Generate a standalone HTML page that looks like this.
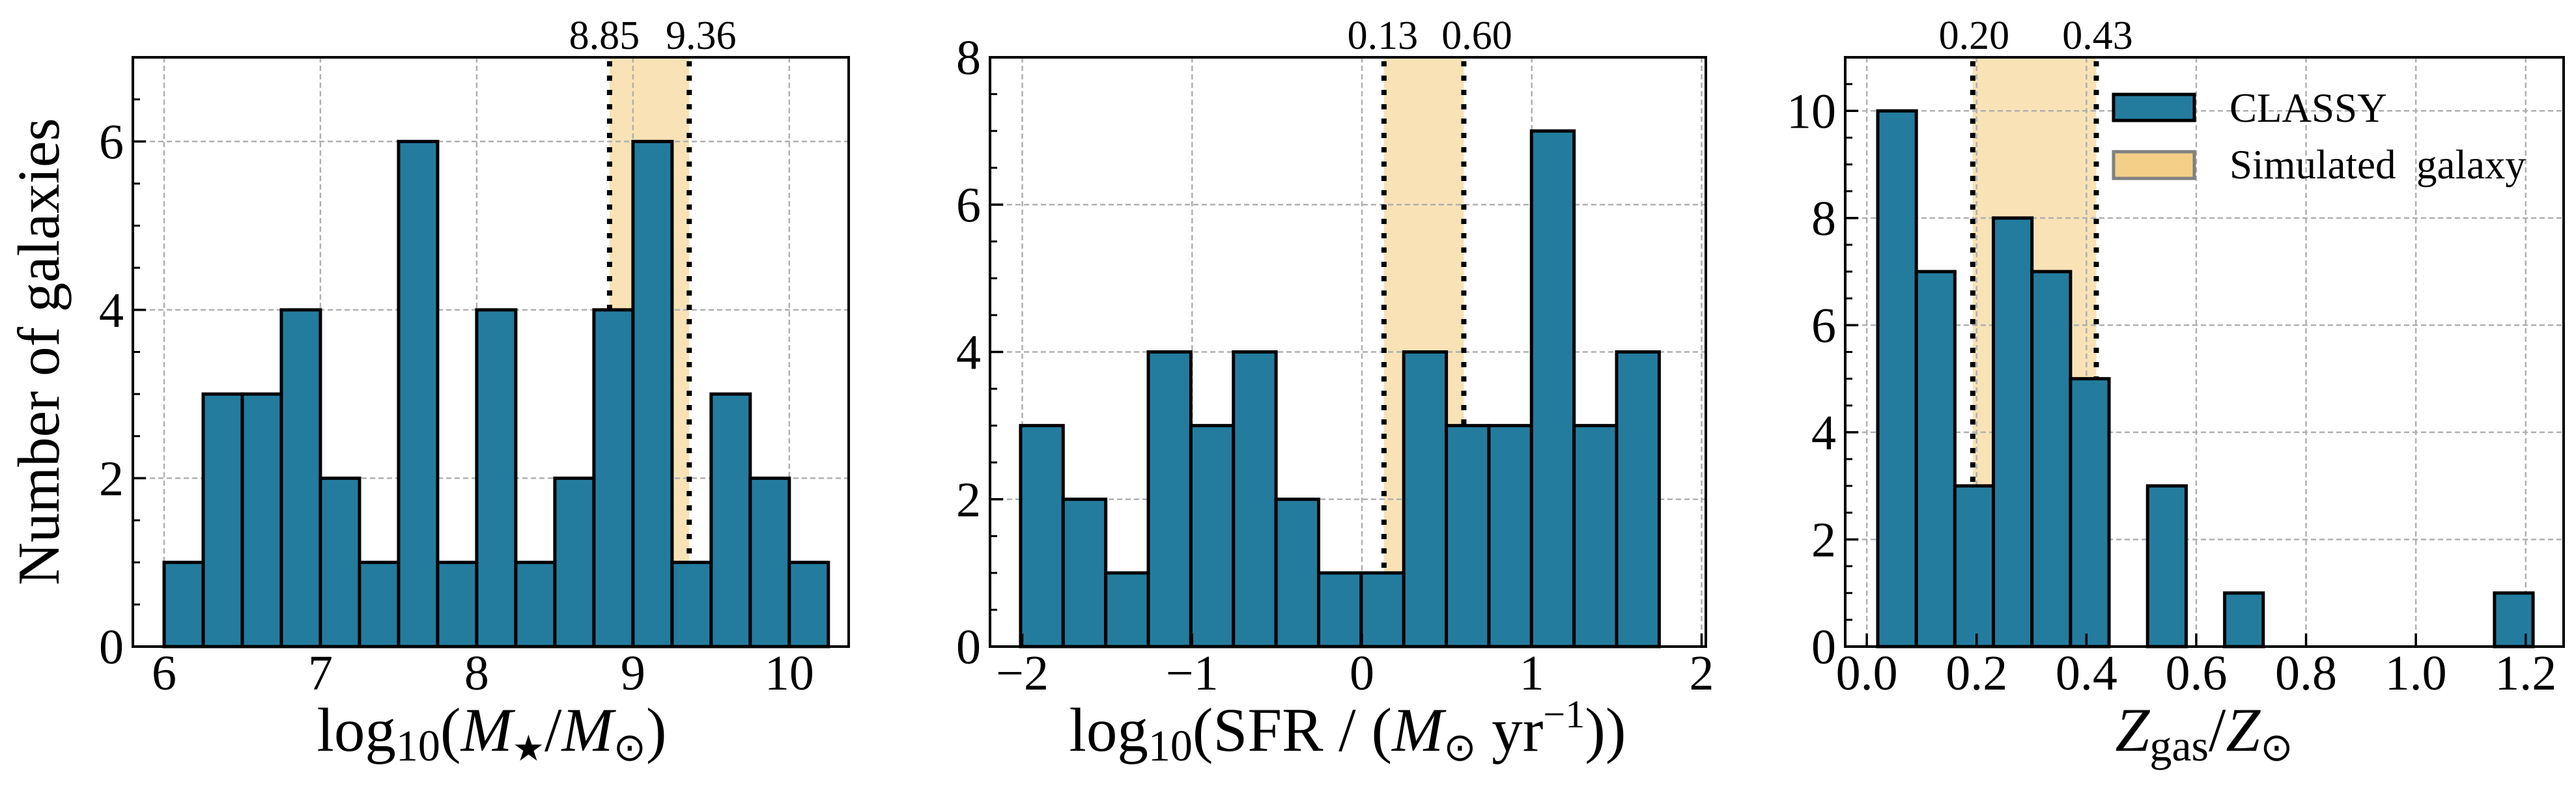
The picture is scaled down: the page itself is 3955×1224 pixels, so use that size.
<!DOCTYPE html>
<html><head><meta charset="utf-8"><style>
html,body{margin:0;padding:0;background:#fff;}
svg text{font-family:"Liberation Serif",serif;fill:#000;}
</style></head><body>
<svg id="fig" width="3955" height="1219" viewBox="0 0 3955 1219" xmlns="http://www.w3.org/2000/svg">
<g id="root"></g>
<g>
<rect x="3245" y="145" width="124" height="40" fill="#237c9e" stroke="#000" stroke-width="5"/>
<text x="3423" y="187" font-size="63">CLASSY</text>
<rect x="3245" y="233" width="124" height="41" fill="#f3cf88" stroke="#808080" stroke-width="5"/>
<text x="3423" y="274" font-size="63" xml:space="preserve">Simulated  galaxy</text>
</g>
</svg>
<script>
// Panel 1: stellar mass
const massBinStart = 6.0, massBinWidth = 0.25;
const massCounts = [1,3,3,4,2,1,6,1,4,1,2,4,6,1,3,2,1];
const massRange = [8.85, 9.36];
const massRangeLabels = ["8.85","9.36"];
const massXTicks = [6,7,8,9,10];
const massXTickLabels = ["6","7","8","9","10"];
const massYTicks = [0,2,4,6];
// Panel 2: SFR
const sfrBinStart = -2.01, sfrBinWidth = 0.2507;
const sfrCounts = [3,2,1,4,3,4,2,1,1,4,3,3,7,3,4];
const sfrRange = [0.13, 0.60];
const sfrRangeLabels = ["0.13","0.60"];
const sfrXTicks = [-2,-1,0,1,2];
const sfrXTickLabels = ["\u22122","\u22121","0","1","2"];
const sfrYTicks = [0,2,4,6,8];
// Panel 3: metallicity
const zBinStart = 0.020, zBinWidth = 0.0702;
const zCounts = [10,7,3,8,7,5,0,3,0,1,0,0,0,0,0,0,1];
const zRange = [0.193, 0.418];
const zRangeLabels = ["0.20","0.43"];
const zXTicks = [0,0.2,0.4,0.6,0.8,1.0,1.2];
const zXTickLabels = ["0.0","0.2","0.4","0.6","0.8","1.0","1.2"];
const zYTicks = [0,2,4,6,8,10];

const NS="http://www.w3.org/2000/svg";
const root=document.getElementById('root');
function mk(tag,attrs,parent){const e=document.createElementNS(NS,tag);for(const k in attrs)e.setAttribute(k,attrs[k]);(parent||root).appendChild(e);return e;}

function panel(p){
  const g=mk('g',{});
  
  
  const sx=v=>p.L+(v-p.xmin)/(p.xmax-p.xmin)*(p.R-p.L);
  const sy=v=>p.B-(v-p.ymin)/(p.ymax-p.ymin)*(p.B-p.T);
  const sh=mk('rect',{x:sx(p.range[0]),y:p.T,width:sx(p.range[1])-sx(p.range[0]),height:p.B-p.T,fill:'#f8e2b6'},g);
  
  
  p.xticks.forEach(t=>{const l=mk('line',{x1:sx(t),x2:sx(t),y1:p.T,y2:p.B,stroke:'#b0b0b0','stroke-width':2.5,'stroke-dasharray':'8,5'},g);
    
    });
  p.yticks.forEach(t=>{const l=mk('line',{x1:p.L,x2:p.R,y1:sy(t),y2:sy(t),stroke:'#b0b0b0','stroke-width':2.5,'stroke-dasharray':'8,5'},g);
    
    });
  p.counts.forEach((c,i)=>{ if(c<=0) return;
    const x0=sx(p.bs+i*p.bw), x1=sx(p.bs+(i+1)*p.bw);
    const r=mk('rect',{x:x0,y:sy(c),width:x1-x0,height:sy(0)-sy(c),fill:'#237c9e',stroke:'#000','stroke-width':5},g);
    
    
  });
  p.range.forEach((v,i)=>{
    const l=mk('line',{x1:sx(v),x2:sx(v),y1:p.T+6,y2:sy(p.counts[Math.floor((v-p.bs)/p.bw)]||0),stroke:'#000','stroke-width':8,'stroke-dasharray':'8,14'},g);
    
    
    const t=mk('text',{x:sx(v)+p.lblOff[i],y:75,'font-size':62,'text-anchor':'middle'},g);
    t.textContent=p.rangeLabels[i];
    
    
  });
  for(let v=p.ymin;v<=p.ymax+1e-9;v+=0.5){mk('line',{x1:p.L,x2:p.L+11,y1:sy(v),y2:sy(v),stroke:'#000','stroke-width':3},g);}
  p.yticks.forEach(t=>{mk('line',{x1:p.L,x2:p.L+20,y1:sy(t),y2:sy(t),stroke:'#000','stroke-width':3.5},g);
    const tx=mk('text',{x:p.L-14,y:sy(t)+26,'font-size':76,'text-anchor':'end'},g);tx.textContent=String(t);
    
    });
  p.xticks.forEach((t,i)=>{mk('line',{x1:sx(t),x2:sx(t),y1:p.B,y2:p.B-20,stroke:'#000','stroke-width':3.5},g);
    const tx=mk('text',{x:sx(t),y:p.B+66,'font-size':76,'text-anchor':'middle'},g);tx.textContent=p.xlabels[i];
    
    });
  const fr=mk('rect',{x:p.L,y:p.T,width:p.R-p.L,height:p.B-p.T,fill:'none',stroke:'#000','stroke-width':4},g);
  
  
  const xl=mk('text',{x:p.xlx,y:1153,'font-size':95,'text-anchor':'middle'},g);
  xl.innerHTML=p.xlabel;
  
  
  return g;
}
panel({name:'stellar-mass-panel',L:204,R:1303,T:88,B:993,xmin:5.80,xmax:10.38,ymin:0,ymax:7,
  bs:massBinStart,bw:massBinWidth,counts:massCounts,range:massRange,rangeLabels:massRangeLabels,lblOff:[-8,18],
  xticks:massXTicks,xlabels:massXTickLabels,yticks:massYTicks,xlx:755,
  xlabel:'log<tspan font-size="68" dy="15">10</tspan><tspan dy="-15">(</tspan><tspan font-style="italic">M</tspan><tspan font-size="55" dy="15">★</tspan><tspan dy="-15">/</tspan><tspan font-style="italic">M</tspan><tspan font-size="60" dy="15">⊙</tspan><tspan dy="-15">)</tspan>'});
panel({name:'sfr-panel',L:1520,R:2619,T:88,B:993,xmin:-2.19,xmax:2.025,ymin:0,ymax:8,
  bs:sfrBinStart,bw:sfrBinWidth,counts:sfrCounts,range:sfrRange,rangeLabels:sfrRangeLabels,lblOff:[-2,20],
  xticks:sfrXTicks,xlabels:sfrXTickLabels,yticks:sfrYTicks,xlx:2069,
  xlabel:'log<tspan font-size="68" dy="15">10</tspan><tspan dy="-15">(SFR / (</tspan><tspan font-style="italic">M</tspan><tspan font-size="60" dy="15">⊙</tspan><tspan dy="-15"> yr</tspan><tspan font-size="60" dy="-36">−1</tspan><tspan dy="36">))</tspan>'});
panel({name:'metallicity-panel',L:2833,R:3936,T:88,B:993,xmin:-0.0393,xmax:1.2691,ymin:0,ymax:11,
  bs:zBinStart,bw:zBinWidth,counts:zCounts,range:zRange,rangeLabels:zRangeLabels,lblOff:[2,2],
  xticks:zXTicks,xlabels:zXTickLabels,yticks:zYTicks,xlx:3384,
  xlabel:'<tspan font-style="italic">Z</tspan><tspan font-size="68" dy="15">gas</tspan><tspan dy="-15">/</tspan><tspan font-style="italic">Z</tspan><tspan font-size="60" dy="15">⊙</tspan>'});
const yl=mk('text',{x:0,y:0,'font-size':91,'text-anchor':'middle',transform:'translate(90,540) rotate(-90)'});
yl.textContent='Number of galaxies';


</script>
</body></html>
